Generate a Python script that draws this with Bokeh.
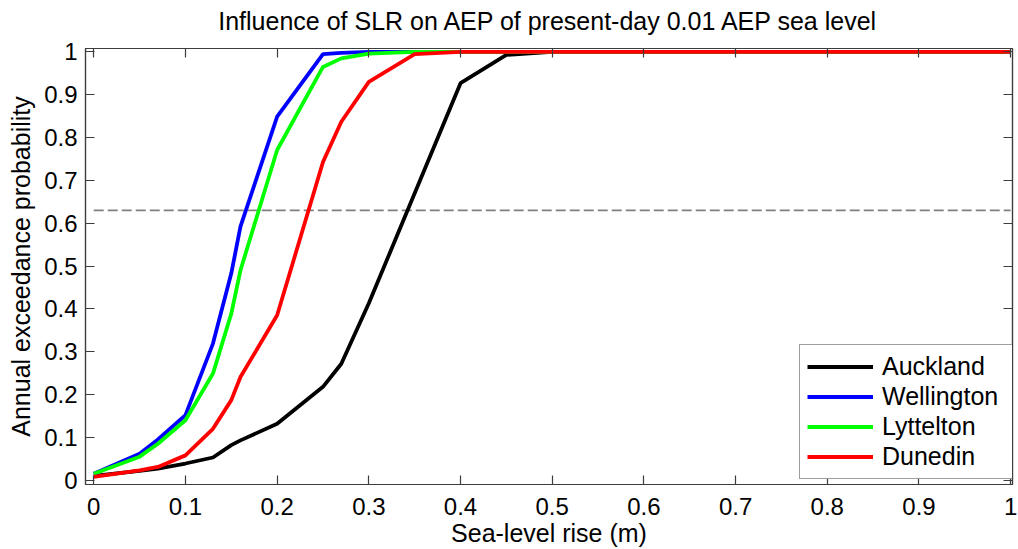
from bokeh.plotting import figure
from bokeh.models import (LinearAxis, FixedTicker, Range1d, Legend, LegendItem,
                          CustomJSTickFormatter)
from bokeh.embed import file_html
from bokeh.resources import INLINE

# ---- data ----
slr = [0, 0.05, 0.07, 0.1, 0.13, 0.15, 0.16, 0.2, 0.25, 0.27, 0.3, 0.35, 0.4,
       0.45, 0.5, 0.6, 0.7, 0.8, 0.9, 1.0]
auckland = [0.01, 0.022, 0.027, 0.039, 0.053, 0.082, 0.093, 0.132, 0.218, 0.272,
            0.413, 0.67, 0.927, 0.993, 1.0, 1.0, 1.0, 1.0, 1.0, 1.0]
wellington = [0.015, 0.062, 0.095, 0.152, 0.319, 0.483, 0.592, 0.849, 0.995, 0.998,
              1.0, 1.0, 1.0, 1.0, 1.0, 1.0, 1.0, 1.0, 1.0, 1.0]
lyttelton = [0.015, 0.055, 0.085, 0.14, 0.249, 0.389, 0.49, 0.771, 0.965, 0.985,
             0.996, 1.0, 1.0, 1.0, 1.0, 1.0, 1.0, 1.0, 1.0, 1.0]
dunedin = [0.008, 0.023, 0.031, 0.058, 0.12, 0.187, 0.241, 0.385, 0.743, 0.837,
           0.93, 0.995, 1.0, 1.0, 1.0, 1.0, 1.0, 1.0, 1.0, 1.0]
series_names = ["Auckland", "Wellington", "Lyttelton", "Dunedin"]
series_colors = ["#000000", "#0000ff", "#00ff00", "#ff0000"]
threshold_x = [0.0, 1.0]
threshold_aep = 0.63

ticks = [0, 0.1, 0.2, 0.3, 0.4, 0.5, 0.6, 0.7, 0.8, 0.9, 1.0]
tick_labels = ["0", "0.1", "0.2", "0.3", "0.4", "0.5", "0.6", "0.7", "0.8", "0.9", "1"]

FONT = "Liberation Sans"
AXC = "#3c3c3c"

p = figure(width=1018, height=549, output_backend="svg", toolbar_location=None,
           x_range=Range1d(-0.009, 1.002), y_range=Range1d(-0.01, 1.008),
           title="Influence of SLR on AEP of present-day 0.01 AEP sea level",
           min_border_left=85, min_border_right=6, min_border_top=48,
           min_border_bottom=65)
p.grid.visible = False
p.background_fill_color = "white"
p.border_fill_color = "white"
p.outline_line_color = AXC
p.outline_line_width = 1.2

p.title.text_font = FONT
p.title.text_font_size = "25px"
p.title.text_font_style = "normal"
p.title.align = "center"
p.title.text_color = "#000000"
p.title.standoff = 4
try:
    p.title.padding = dict(left=0, right=0, top=0, bottom=12)
except Exception:
    try:
        p.title.padding = (0, 0, 0, 12)
    except Exception:
        p.title.standoff = 14

overrides = {t: l for t, l in zip(ticks, tick_labels)}

def style_axis(ax, show_labels):
    ax.ticker = FixedTicker(ticks=ticks)
    ax.major_tick_in = 9
    ax.major_tick_out = 0
    ax.minor_tick_line_color = None
    ax.major_tick_line_color = AXC
    ax.major_tick_line_width = 1.2
    ax.axis_line_color = AXC
    ax.axis_line_width = 1.2
    if show_labels:
        ax.major_label_overrides = overrides
        ax.major_label_text_font = FONT
        ax.major_label_text_font_size = "24px"
        ax.major_label_text_color = "#000000"
        ax.axis_label_text_font = FONT
        ax.axis_label_text_font_size = "25px"
        ax.axis_label_text_font_style = "normal"
        ax.axis_label_text_color = "#000000"
    else:
        ax.formatter = CustomJSTickFormatter(code="return ''")
        ax.major_label_standoff = 0
        ax.major_label_text_font_size = "0px"

xa = p.xaxis[0]
ya = p.yaxis[0]
style_axis(xa, True)
style_axis(ya, True)
xa.axis_label = "Sea-level rise (m)"
ya.axis_label = "Annual exceedance probability"
xa.major_label_standoff = 13
xa.axis_label_standoff = 1
ya.major_label_standoff = 8
ya.axis_label_standoff = 6

ra = LinearAxis()
ta = LinearAxis()
style_axis(ra, False)
style_axis(ta, False)
p.add_layout(ra, "right")
p.add_layout(ta, "above")

p.line(threshold_x, [threshold_aep, threshold_aep], line_color="#808080",
       line_width=1.8, line_dash="10 4")

renderers = []
for name, ys, col in zip(series_names, [auckland, wellington, lyttelton, dunedin],
                         series_colors):
    r = p.line(slr, ys, line_color=col, line_width=3.8)
    renderers.append(r)

legend = Legend(items=[LegendItem(label=n, renderers=[r])
                       for n, r in zip(series_names, renderers)],
                location=(714, 5))
legend.label_text_font = FONT
legend.label_text_font_size = "25px"
legend.label_text_color = "#000000"
legend.glyph_width = 66
legend.glyph_height = 27
legend.label_height = 27
legend.label_width = 124
legend.label_standoff = 9
legend.spacing = 1
legend.padding = 7
legend.margin = 0
legend.border_line_color = AXC
legend.border_line_width = 1.2
legend.background_fill_color = "white"
legend.background_fill_alpha = 1.0
p.add_layout(legend)

open("out.html", "w").write(file_html(p, INLINE))
